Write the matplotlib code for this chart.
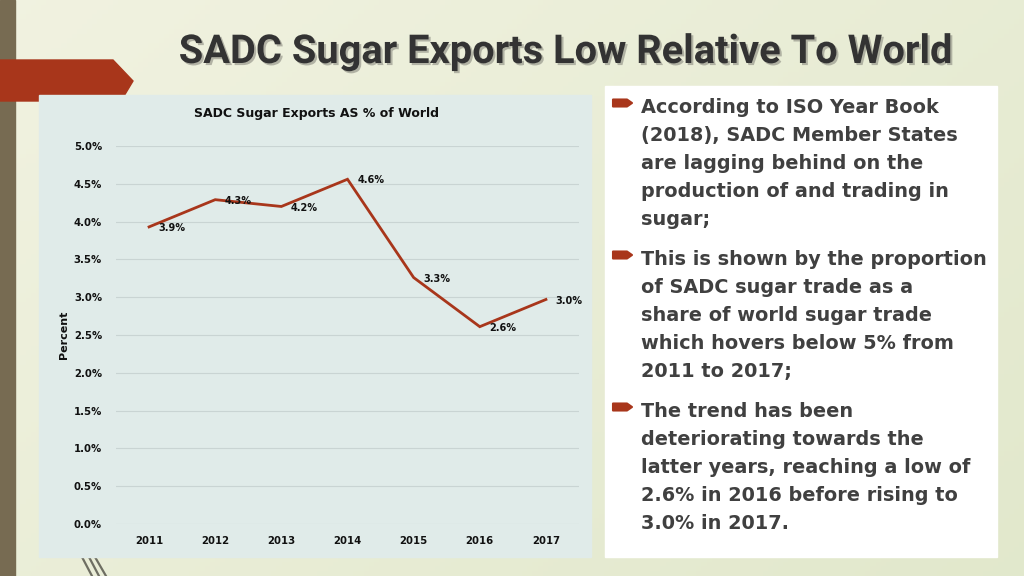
import matplotlib
matplotlib.use("Agg")
import matplotlib.pyplot as plt
import matplotlib.patheffects as pe
from matplotlib.patches import Rectangle, Polygon
from matplotlib.lines import Line2D
import numpy as np

W, H = 1024, 576

# chart data
years = ["2011", "2012", "2013", "2014", "2015", "2016", "2017"]
share = [3.93, 4.29, 4.20, 4.56, 3.26, 2.61, 2.97]
share_labels = ["3.9%", "4.3%", "4.2%", "4.6%", "3.3%", "2.6%", "3.0%"]
y_ticks = [0.0, 0.5, 1.0, 1.5, 2.0, 2.5, 3.0, 3.5, 4.0, 4.5, 5.0]

title = "SADC Sugar Exports Low Relative To World"
chart_title = "SADC Sugar Exports AS % of World"
bullets = [
    ["According to ISO Year Book", "(2018), SADC Member States",
     "are lagging behind on the", "production of and trading in", "sugar;"],
    ["This is shown by the proportion", "of SADC sugar trade as a",
     "share of world sugar trade", "which hovers below 5% from", "2011 to 2017;"],
    ["The trend has been", "deteriorating towards the",
     "latter years, reaching a low of", "2.6% in 2016 before rising to",
     "3.0% in 2017."],
]

RED = "#a8361b"
TXT = "#404040"
FONT = ["DejaVu Sans"]


def fx(x):
    return x / W


def fy(y):
    return 1 - y / H


fig = plt.figure(figsize=(W / 100, H / 100), dpi=100)

# background gradient
bg = fig.add_axes([0, 0, 1, 1], zorder=-10)
gx, gy = np.meshgrid(np.linspace(0, 1, 200), np.linspace(0, 1, 120))
t = np.clip(0.6 * gx + 0.4 * gy, 0, 1)
c0 = np.array([0.945, 0.950, 0.880])
c1 = np.array([0.885, 0.910, 0.800])
img = c0[None, None, :] * (1 - t[..., None]) + c1[None, None, :] * t[..., None]
bg.imshow(img, aspect="auto", extent=[0, 1, 0, 1], origin="upper")
bg.set_xlim(0, 1)
bg.set_ylim(0, 1)
bg.axis("off")

# decorations: left bar, red arrow, panels, stray strokes
fig.patches.append(Rectangle((0, 0), fx(15), 1, transform=fig.transFigure,
                             color="#776b52", zorder=1))
arrow = [(0, 60), (113, 60), (133, 81), (121, 101), (0, 101)]
fig.patches.append(Polygon([(fx(a), fy(b)) for a, b in arrow], closed=True,
                           transform=fig.transFigure, color=RED, zorder=2))
fig.patches.append(Rectangle((fx(39), fy(557)), fx(591 - 39), (557 - 95) / H,
                             transform=fig.transFigure, color="#e0ebe9", zorder=3))
fig.patches.append(Rectangle((fx(605), fy(557)), fx(997 - 605), (557 - 86) / H,
                             transform=fig.transFigure, color="#ffffff", zorder=3))
for x0, x1 in [(82, 92), (89, 99), (95, 106)]:
    fig.lines.append(Line2D([fx(x0), fx(x1)], [fy(557), fy(576)],
                            transform=fig.transFigure, color="#6e6e62", lw=1.6, zorder=2))

# slide title, sized so it spans the same width as the reference (~774 px)
ttl = fig.text(fx(565), fy(63), title, ha="center", va="baseline", fontsize=27,
               fontweight="bold", color="#333333", family=["Roboto", "DejaVu Sans"],
               path_effects=[pe.SimplePatchShadow(offset=(1.5, -1.5), shadow_rgbFace="#8a8a80", alpha=0.6),
                             pe.Normal()], zorder=5)
r = fig.canvas.get_renderer()
w = ttl.get_window_extent(r).width
ttl.set_fontsize(27 * 774 / w)

# line chart
ax = fig.add_axes([fx(116), 52 / H, 463 / W, 378 / H], zorder=5)
ax.set_facecolor("none")
x = np.arange(len(years))
ax.plot(x, share, color=RED, lw=2, solid_joinstyle="miter")
for xi, yi, lab in zip(x, share, share_labels):
    ax.annotate(lab, (xi, yi), xytext=(7, -0.8), textcoords="offset points",
                ha="left", va="center", fontsize=7, fontweight="bold",
                color="#111111", family=FONT)
ax.set_xlim(-0.5, len(years) - 0.5)
ax.set_ylim(0, 5.0)
ax.set_yticks(y_ticks)
ax.set_yticklabels([f"{v:.1f}%" for v in y_ticks])
ax.set_xticks(x)
ax.set_xticklabels(years)
ax.tick_params(length=0, labelsize=7.3, colors="#111111")
ax.tick_params(axis="y", pad=10)
ax.tick_params(axis="x", pad=9)
for lab in ax.get_xticklabels() + ax.get_yticklabels():
    lab.set_fontweight("bold")
    lab.set_family(FONT)
ax.grid(axis="y", color="#c9d4d3", lw=0.8)
ax.set_axisbelow(True)
for s in ax.spines.values():
    s.set_visible(False)

fig.text(fx(317), fy(113), chart_title, ha="center", va="center", fontsize=9,
         fontweight="semibold", color="#111111", family=FONT, zorder=6)
fig.text(fx(64), fy(335), "Percent", ha="center", va="center", rotation=90,
         fontsize=8, fontweight="bold", color="#111111", family=FONT, zorder=6)

# bullet text
base = [113, 265, 417]
for b0, lines in zip(base, bullets):
    cy = b0 - 10
    shape = [(613, cy - 3.5), (627, cy - 3.5), (632, cy), (627, cy + 3.5), (613, cy + 3.5)]
    fig.patches.append(Polygon([(fx(a), fy(b)) for a, b in shape], closed=True,
                               transform=fig.transFigure, color=RED, zorder=6,
                               joinstyle="round", lw=1.5))
    for k, line in enumerate(lines):
        fig.text(fx(641), fy(b0 + 28 * k), line, ha="left", va="baseline",
                 fontsize=13.9, fontweight="bold", color=TXT, family=FONT, zorder=6)

fig.savefig("out.png", dpi=100)
